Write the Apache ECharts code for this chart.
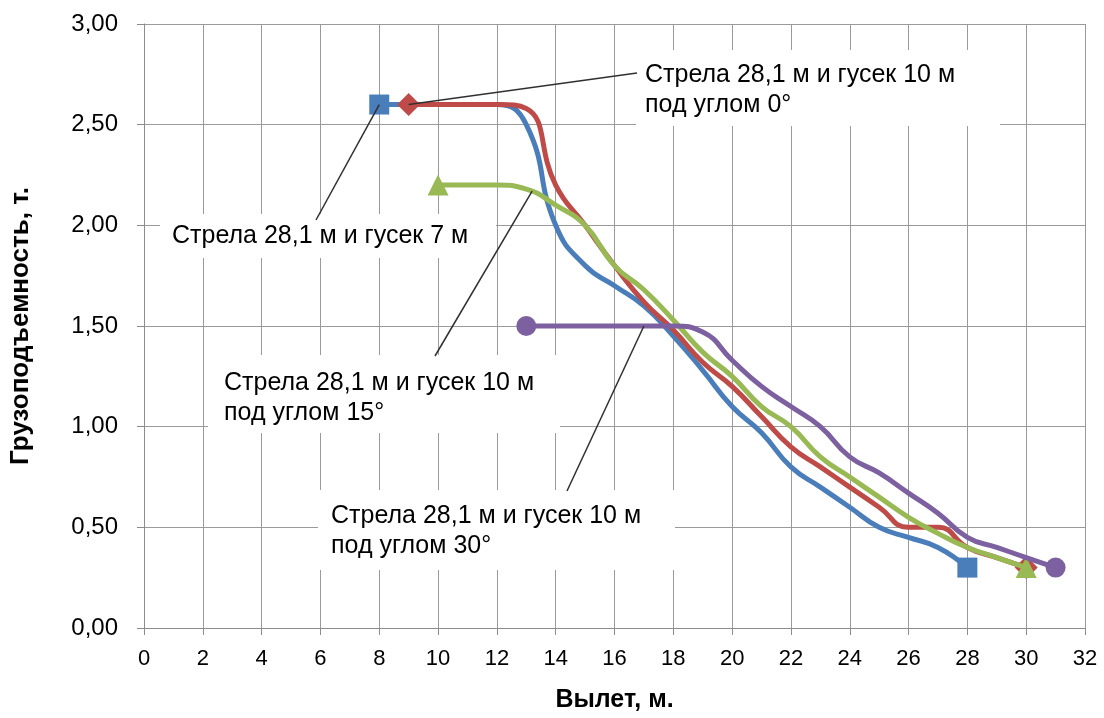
<!DOCTYPE html>
<html>
<head>
<meta charset="utf-8">
<script src="https://cdn.jsdelivr.net/npm/echarts@6/dist/echarts.min.js"></script>
<style>html,body{margin:0;padding:0;background:#fff}#c{width:1104px;height:718px}</style>
</head>
<body>
<div id="c"></div>
<script>
// ---- data ----
const blueX   = [8, 9, 10, 11, 12, 13, 14, 15, 16, 17, 18, 19, 20, 21, 22, 23, 24, 25, 26, 27, 28];
const blueY   = [2.6, 2.6, 2.6, 2.6, 2.6, 2.5, 2.0, 1.8, 1.7, 1.6, 1.45, 1.28, 1.1, 0.97, 0.8, 0.7, 0.6, 0.5, 0.45, 0.4, 0.3];
const redX    = [9, 10, 11, 12, 13, 14, 15, 16, 17, 18, 19, 20, 21, 22, 23, 24, 25, 26, 27, 28, 29, 30];
const redY    = [2.6, 2.6, 2.6, 2.6, 2.58, 2.2, 2.0, 1.8, 1.62, 1.48, 1.32, 1.2, 1.05, 0.9, 0.8, 0.7, 0.6, 0.5, 0.5, 0.4, 0.35, 0.3];
const greenX  = [10, 11, 12, 13, 14, 15, 16, 17, 18, 19, 20, 21, 22, 23, 24, 25, 26, 27, 28, 29, 30];
const greenY  = [2.2, 2.2, 2.2, 2.18, 2.1, 2.0, 1.8, 1.68, 1.53, 1.37, 1.25, 1.1, 1.0, 0.85, 0.75, 0.65, 0.55, 0.47, 0.4, 0.35, 0.3];
const purpleX = [13, 14, 15, 16, 17, 18, 19, 20, 21, 22, 23, 24, 25, 26, 27, 28, 29, 30, 31];
const purpleY = [1.5, 1.5, 1.5, 1.5, 1.5, 1.5, 1.47, 1.33, 1.2, 1.1, 1.0, 0.85, 0.77, 0.67, 0.57, 0.45, 0.4, 0.35, 0.3];

const seriesNames = [
  'Стрела 28,1 м и гусек 7 м',
  'Стрела 28,1 м и гусек 10 м под углом 0°',
  'Стрела 28,1 м и гусек 10 м под углом 15°',
  'Стрела 28,1 м и гусек 10 м под углом 30°'
];
const calloutLines = [
  ['Стрела 28,1 м и гусек 7 м'],
  ['Стрела 28,1 м и гусек 10 м', 'под углом 0°'],
  ['Стрела 28,1 м и гусек 10 м', 'под углом 15°'],
  ['Стрела 28,1 м и гусек 10 м', 'под углом 30°']
];
// anchor points (data coords) where callout leaders touch the curves
const calloutAnchorX = [8, 9, 13.2, 17];
const calloutAnchorY = [2.6, 2.6, 2.17, 1.5];

const xTicks = {min: 0, max: 32, interval: 2};
const yTicks = {min: 0, max: 3, interval: 0.5};
const xTitle = 'Вылет, м.';
const yTitle = 'Грузоподъемность, т.';

// ---- styling / layout ----
const colors = ['#4A7EBB', '#BE4B48', '#98B954', '#7D60A0'];
const symbols = ['rect', 'diamond', 'triangle', 'circle'];
const symbolSizes = [20, 23, 21, 20];
const font = '"Liberation Sans", Arial, sans-serif';

// callout box layout (pixels): box rect, text start, line centers, leader end
const calloutLayout = [
  {box: [160, 214, 336, 44], tx: 172, ty: [236], end: [316, 220]},
  {box: [636, 50, 364, 76], tx: 645, ty: [75, 105], end: [637, 73]},
  {box: [208, 355, 352, 78], tx: 224, ty: [383, 413], end: [435, 356]},
  {box: [318, 490, 357, 80], tx: 331, ty: [516, 546], end: [567, 491]}
];

function makeData(xs, ys, idx) {
  return xs.map((x, i) => {
    const edge = (i === 0 || i === xs.length - 1);
    return {
      value: [x, ys[i]],
      symbol: edge ? symbols[idx] : 'none',
      symbolSize: edge ? symbolSizes[idx] : 0
    };
  });
}

const seriesXY = [[blueX, blueY], [redX, redY], [greenX, greenY], [purpleX, purpleY]];

const chart = echarts.init(document.getElementById('c'), null, {renderer: 'canvas'});
const option = {
  animation: false,
  backgroundColor: '#ffffff',
  textStyle: {fontFamily: font},
  grid: {left: 144, right: 19, top: 24, bottom: 85, containLabel: false},
  xAxis: {
    type: 'value', min: xTicks.min, max: xTicks.max, interval: xTicks.interval,
    name: xTitle, nameLocation: 'middle', nameGap: 60,
    nameTextStyle: {fontFamily: font, fontSize: 25, fontWeight: 'bold', color: '#000'},
    axisLine: {show: true, lineStyle: {color: '#8c8c8c', width: 1}},
    axisTick: {show: true, length: 7, lineStyle: {color: '#8c8c8c'}},
    axisLabel: {fontFamily: font, fontSize: 22, color: '#000', margin: 20},
    splitLine: {show: true, lineStyle: {color: '#9a9a9a', width: 1}}
  },
  yAxis: {
    type: 'value', min: yTicks.min, max: yTicks.max, interval: yTicks.interval,
    name: yTitle, nameLocation: 'middle', nameGap: 110, nameRotate: 90,
    nameTextStyle: {fontFamily: font, fontSize: 26, fontWeight: 'bold', color: '#000'},
    axisLine: {show: true, lineStyle: {color: '#8c8c8c', width: 1}},
    axisTick: {show: true, length: 7, lineStyle: {color: '#8c8c8c'}},
    axisLabel: {fontFamily: font, fontSize: 24, color: '#000', margin: 26,
      formatter: v => v.toFixed(2).replace('.', ',')},
    splitLine: {show: true, lineStyle: {color: '#9a9a9a', width: 1}}
  },
  series: seriesXY.map((xy, i) => ({
    name: seriesNames[i],
    type: 'line',
    smooth: 0.5,
    showSymbol: true,
    showAllSymbol: true,
    symbol: symbols[i],
    lineStyle: {color: colors[i], width: 5},
    itemStyle: {color: colors[i]},
    z: 2 + i,
    data: makeData(xy[0], xy[1], i)
  }))
};
chart.setOption(option);

// callouts: boxes, leader lines and texts
const g = [];
calloutLayout.forEach((c) => {
  g.push({type: 'rect', z: 10, shape: {x: c.box[0], y: c.box[1], width: c.box[2], height: c.box[3]},
    style: {fill: '#ffffff'}});
});
calloutLayout.forEach((c, i) => {
  const p = chart.convertToPixel({gridIndex: 0}, [calloutAnchorX[i], calloutAnchorY[i]]);
  g.push({type: 'line', z: 11, shape: {x1: p[0], y1: p[1], x2: c.end[0], y2: c.end[1]},
    style: {stroke: '#303030', lineWidth: 1.5}});
  calloutLines[i].forEach((t, k) => {
    g.push({type: 'text', z: 12, x: c.tx, y: c.ty[k],
      style: {text: t, fill: '#000', font: '25px ' + font, verticalAlign: 'middle'}});
  });
});
chart.setOption({graphic: g});
</script>
</body>
</html>
